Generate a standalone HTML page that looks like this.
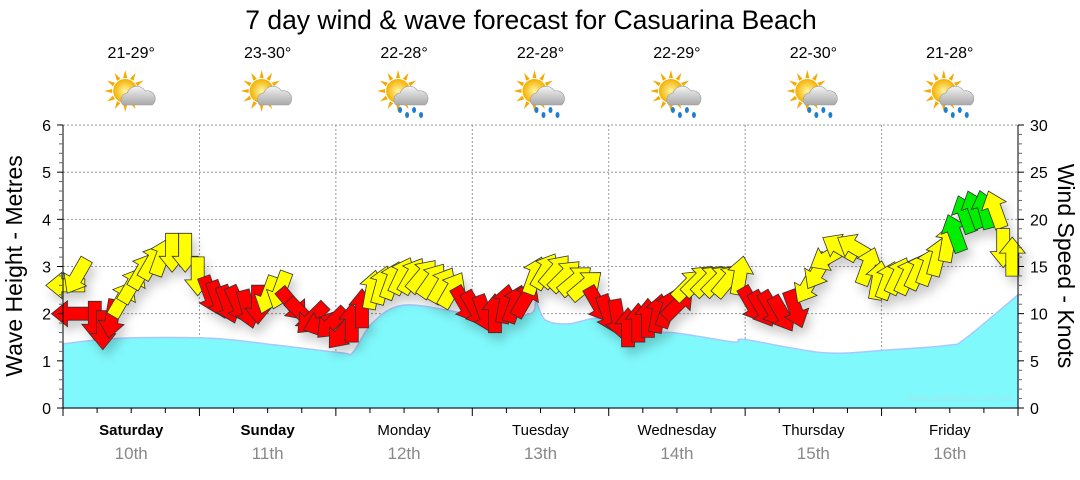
<!DOCTYPE html>
<html><head><meta charset="utf-8"><style>
body{margin:0;background:#fff;width:1080px;height:475px;overflow:hidden;font-family:"Liberation Sans",sans-serif}
</style></head><body>
<svg id="chart" width="1080" height="475" xmlns="http://www.w3.org/2000/svg" font-family="Liberation Sans, sans-serif">
<defs>
<filter id="sh" x="-50%" y="-50%" width="200%" height="200%"><feDropShadow dx="4" dy="7" stdDeviation="5" flood-color="#000" flood-opacity="0.2"/></filter>
<radialGradient id="sunG"><stop offset="0" stop-color="#fff6a0"/><stop offset="1" stop-color="#f5b000"/></radialGradient>
<linearGradient id="cloudG" x1="0" y1="0" x2="0" y2="1"><stop offset="0" stop-color="#f4f4f4"/><stop offset="1" stop-color="#a8a8a8"/></linearGradient>
</defs>
<text x="531" y="29" font-size="26.5" text-anchor="middle" fill="#000">7 day wind &amp; wave forecast for Casuarina Beach</text>
<g id="grid"></g>
<g id="wave"></g>
<g id="winds" filter="url(#sh)"></g>
<g id="axes"></g>
<g id="days"></g>
<text transform="translate(22,266) rotate(-90)" font-size="23" text-anchor="middle">Wave Height - Metres</text>
<text transform="translate(1058,266) rotate(90)" font-size="23" text-anchor="middle">Wind Speed - Knots</text>
<text x="1013" y="401" font-size="10" text-anchor="end" fill="#9fe8ee">www.seabreeze.com.au</text>
</svg>
<script>
const dayNames=["Saturday","Sunday","Monday","Tuesday","Wednesday","Thursday","Friday"];
const dayDates=["10th","11th","12th","13th","14th","15th","16th"];
const temps=["21-29°","23-30°","22-28°","22-28°","22-29°","22-30°","21-28°"];
const rainy=[false,false,true,true,true,true,true];
const waveHours=[0,10,26,37,49,51,54.4,59.8,69.5,74.9,82.2,83.2,84.8,88.8,94.3,98.5,107,118,120,134,145,155.7,158.8,168];
const waveHeights=[1.36,1.48,1.48,1.34,1.17,1.18,1.8,2.18,2.03,1.87,2.0,2.25,1.87,1.78,1.9,1.6,1.6,1.4,1.45,1.17,1.23,1.33,1.48,2.4];
const windHours=[0.5,1.5,2.5,5.6,7,8.6,10.4,12.1,13.9,15.7,17.4,19.2,21.5,23.7,25.9,27.3,29,30.8,32.5,34.3,36.1,38.2,40.3,42,43.8,45.6,47.3,49.1,50.8,52.6,54.4,56.1,57.9,59.6,61.4,63.2,64.9,66.7,68.4,70.7,72.5,74.2,76,77.8,79.5,81.3,83,84.8,86.6,88.3,90.1,91.9,94.1,95.9,97.6,99.4,101.2,102.9,104.7,106.4,108.2,110,111.7,113.5,115.3,117,119.1,121.2,123,124.7,126.5,128.8,131,132.8,134.6,136.7,139.3,141.6,143.4,145.1,146.9,148.6,150.4,152.2,153.9,155.7,156.9,158.7,160.4,162.2,164,165.4,167];
const windSpeeds=[13,10,14,9.3,8.3,9.5,11.5,13,14.5,15.5,16,16.5,16.5,14,12,11.5,11,11,10.5,11,12,12.5,11,10,9.5,9,9,8,9,10.5,12.5,13,13.5,14,14,14,13.5,13,12.5,11,10.5,10,10,11,11,11.5,14,14.5,14.5,14,13.5,13,11,10,9.5,8.5,9,9.5,10,10.5,11,13,13.5,13.5,13.5,13.5,14,11,10.5,10.5,10,10.5,13,14.5,16,17,17,15,13.5,13.5,14,14,14.5,15,16,17.5,18.5,20.5,21,21,21,17,16];
const windDirs=[270,270,210,180,180,190,30,30,30,30,20,180,180,180,160,160,160,155,165,180,200,200,140,135,225,250,225,220,0,0,10,15,20,25,30,40,35,30,30,150,150,160,0,10,20,30,20,30,40,45,50,50,150,160,170,0,0,0,10,20,45,45,45,45,45,40,10,150,150,150,150,160,210,210,240,300,300,20,10,20,25,25,25,20,15,10,340,340,340,345,340,180,0];
const windColors="yryrrryyyyyyyyrrrrrryyrrrrrrrryyyyyyyyyrrrrrrryyyyyyrrrrrrrrryyyyyyrrrrryyyyyyyyyyyyyyggggyy";

const X0=63,X1=1018,Y0=408,Y1=125;
const xs=h=>X0+(X1-X0)*h/168;
const ym=m=>Y0-(Y0-Y1)*m/6;
const yk=k=>Y0-(Y0-Y1)*k/30;
const NS="http://www.w3.org/2000/svg";
function mk(tag,attrs,parent){const e=document.createElementNS(NS,tag);for(const k in attrs)e.setAttribute(k,attrs[k]);parent.appendChild(e);return e;}
const grid=document.getElementById('grid'),axes=document.getElementById('axes'),days=document.getElementById('days');

for(let m=1;m<=6;m++){const l=mk('line',{x1:X0,x2:X1,y1:ym(m),y2:ym(m),stroke:'#999','stroke-dasharray':'2,2','stroke-width':1},grid);

}
for(let d=1;d<7;d++){const l=mk('line',{x1:xs(d*24),x2:xs(d*24),y1:Y1,y2:Y0,stroke:'#999','stroke-dasharray':'2,2','stroke-width':1},grid);

}

// wave area (smoothed)
const pts=waveHours.map((h,i)=>[xs(h),ym(waveHeights[i])]);
let d=`M${xs(0)},${Y0} L${pts[0][0]},${pts[0][1]}`;
for(let i=0;i<pts.length-1;i++){const p0=pts[Math.max(0,i-1)],p1=pts[i],p2=pts[i+1],p3=pts[Math.min(pts.length-1,i+2)];
  const c1=[p1[0]+(p2[0]-p0[0])/6,p1[1]+(p2[1]-p0[1])/6],c2=[p2[0]-(p3[0]-p1[0])/6,p2[1]-(p3[1]-p1[1])/6];
  d+=` C${c1[0].toFixed(1)},${c1[1].toFixed(1)} ${c2[0].toFixed(1)},${c2[1].toFixed(1)} ${p2[0].toFixed(1)},${p2[1].toFixed(1)}`;}
d+=` L${xs(168)},${Y0} Z`;
const wv=mk('path',{d:d,fill:'#80f9fc',stroke:'#a8c8ff','stroke-width':1.5},document.getElementById('wave'));



// wind arrows
const cmap={r:'#ff0000',y:'#ffff00',g:'#00ee00'};
const wg=document.getElementById('winds');
windHours.forEach((h,i)=>{
  const cx=xs(h),cy=yk(windSpeeds[i]);
  const a=mk('path',{d:'M0,-20 L13,-4 L6.5,-4 L6.5,19 L-6.5,19 L-6.5,-4 L-13,-4 Z',fill:cmap[windColors[i]]||'#ff0',stroke:'#333','stroke-width':0.8,'stroke-linejoin':'miter',transform:`translate(${cx.toFixed(1)},${cy.toFixed(1)}) rotate(${windDirs[i]})`},wg);
  
  
});

// axes
mk('line',{x1:X0,x2:X0,y1:Y1,y2:Y0+5,stroke:'#000'},axes);
mk('line',{x1:X1,x2:X1,y1:Y1,y2:Y0+5,stroke:'#000'},axes);
mk('line',{x1:X0,x2:X1,y1:Y0,y2:Y0,stroke:'#000'},axes);
for(let i=0;i<=30;i++){const m=i/5,y=ym(m);const maj=i%5===0;
  mk('line',{x1:X0-(maj?6:4),x2:X0,y1:y,y2:y,stroke:maj?'#000':'#666'},axes);
  if(maj){const t=mk('text',{x:X0-12,y:y+6,'font-size':16,'text-anchor':'end'},axes);t.textContent=m;
    
    }
}
for(let k=0;k<=30;k++){const y=yk(k);const maj=k%5===0;
  mk('line',{x1:X1,x2:X1+(maj?6:4),y1:y,y2:y,stroke:maj?'#000':'#666'},axes);
  if(maj){const t=mk('text',{x:X1+12,y:y+6,'font-size':16},axes);t.textContent=k;
    
    }
}
for(let h=0;h<=168;h+=6){mk('line',{x1:xs(h),x2:xs(h),y1:Y0,y2:Y0+(h%24===0?8:5),stroke:'#000'},axes);}

// day labels + weather
dayNames.forEach((n,i)=>{
  const cx=xs(i*24+12);
  const t=mk('text',{x:cx,y:435,'font-size':15,'text-anchor':'middle','font-weight':i<2?'bold':'normal'},days);t.textContent=n;
  
  
  const t2=mk('text',{x:cx,y:459,'font-size':17,'text-anchor':'middle',fill:'#888'},days);t2.textContent=dayDates[i];
  
  
  const t3=mk('text',{x:cx,y:58,'font-size':16,'text-anchor':'middle'},days);t3.textContent=temps[i];
  
  
  const g=mk('g',{transform:`translate(${cx},95)`},days);
  
  
  for(let r=0;r<12;r++){mk('path',{d:'M-2,-13 L0,-21 L2,-13 Z',fill:'#f5a800',transform:`translate(-6,-4) rotate(${r*30})`},g);}
  mk('circle',{cx:-6,cy:-4,r:12,fill:'url(#sunG)'},g);
  mk('path',{d:'M-8,10 a7,7 0 0 1 4,-12 a10,10 0 0 1 18,-2 a8,8 0 0 1 7,14 Z',fill:'url(#cloudG)',stroke:'#999','stroke-width':0.6},g);
  if(rainy[i]){[-4,3,10,17].forEach((dx,j)=>{mk('ellipse',{cx:dx,cy:15+(j%2)*5,rx:2,ry:3,fill:'#1e7fd0'},g);});}
});
</script>
</body></html>
